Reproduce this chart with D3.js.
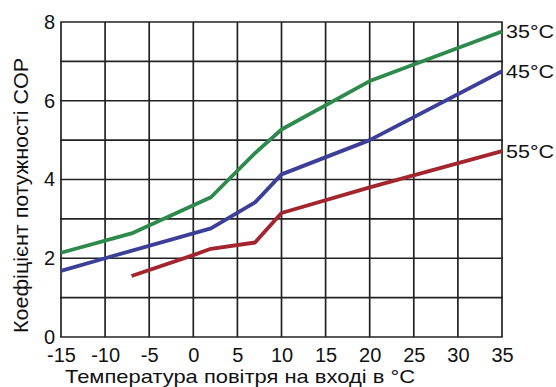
<!DOCTYPE html>
<html><head><meta charset="utf-8">
<script src="https://cdn.jsdelivr.net/npm/d3@7"></script>
<style>body{margin:0;background:#fff}svg{display:block}</style>
</head><body>
<svg id="c" width="556" height="387"></svg>
<script>
const xTicks = [-15,-10,-5,0,5,10,15,20,25,30,35];
const yTicks = [0,2,4,6,8];
const seriesNames = ["35°C","45°C","55°C"];
const seriesColors = ["#2e8a4c","#3c3f98","#a3262e"];
const temps35 = [-15,-7,2,7,10,20,35];
const cop35 = [2.14,2.63,3.55,4.67,5.27,6.5,7.76];
const temps45 = [-15,-10,2,7,10,20,35];
const cop45 = [1.68,2.0,2.76,3.42,4.13,5.0,6.75];
const temps55 = [-7,0,2,7,10,20,35];
const cop55 = [1.55,2.08,2.24,2.4,3.15,3.8,4.72];
const series = [[temps35,cop35],[temps45,cop45],[temps55,cop55]];

const svg = d3.select("#c");
const m = {l:61,t:22,r:502,b:337};
const x = d3.scaleLinear().domain([-15,35]).range([m.l,m.r]);
const y = d3.scaleLinear().domain([0,8]).range([m.b,m.t]);
const font = "Liberation Sans, Arial, sans-serif";

const g = svg.append("g");
g.selectAll(".vx").data(xTicks).enter().append("line")
  .attr("x1",d=>x(d)).attr("x2",d=>x(d)).attr("y1",m.t).attr("y2",m.b)
  .attr("stroke","#222").attr("stroke-width",1.7);
g.selectAll(".hy").data(d3.range(0,9)).enter().append("line")
  .attr("y1",d=>y(d)).attr("y2",d=>y(d)).attr("x1",m.l-0.8).attr("x2",m.r+0.8)
  .attr("stroke","#222").attr("stroke-width",1.7);

const xa = svg.append("g").attr("transform",`translate(0,${m.b})`)
  .call(d3.axisBottom(x).tickValues(xTicks).tickSize(0).tickPadding(11).tickFormat(d=>String(d)));
xa.select(".domain").remove();
xa.attr("font-family",font).attr("font-size",20);
xa.selectAll("text").attr("fill","#111");
const ya = svg.append("g").attr("transform",`translate(${m.l},0)`)
  .call(d3.axisLeft(y).tickValues(yTicks).tickSize(0).tickPadding(6).tickFormat(d=>String(d)));
ya.select(".domain").remove();
ya.attr("font-family",font).attr("font-size",20);
ya.selectAll("text").attr("fill","#111");

const line = d3.line().x(d=>x(d[0])).y(d=>y(d[1]));
series.forEach((s,i)=>{
  const pts = s[0].map((t,j)=>[t,s[1][j]]);
  svg.append("path").datum(pts).attr("d",line).attr("fill","none")
    .attr("stroke",seriesColors[i]).attr("stroke-width",3.8)
    .attr("stroke-linejoin","round");
  const last = pts[pts.length-1];
  svg.append("text").attr("x",x(last[0])+4).attr("y",y(last[1])+6.5)
    .attr("font-family",font).attr("font-size",19).attr("fill","#111")
    .attr("textLength",48).attr("lengthAdjust","spacingAndGlyphs")
    .text(seriesNames[i]);
});

svg.append("text").attr("x",65).attr("y",383)
  .attr("font-family",font).attr("font-size",19).attr("fill","#111")
  .attr("textLength",350).attr("lengthAdjust","spacingAndGlyphs")
  .text("Температура повітря на вході в °C");
svg.append("text").attr("transform",`translate(28,333) rotate(-90)`)
  .attr("font-family",font).attr("font-size",20).attr("fill","#111")
  .attr("textLength",275).attr("lengthAdjust","spacingAndGlyphs")
  .text("Коефіцієнт потужності COP");
</script>
</body></html>
